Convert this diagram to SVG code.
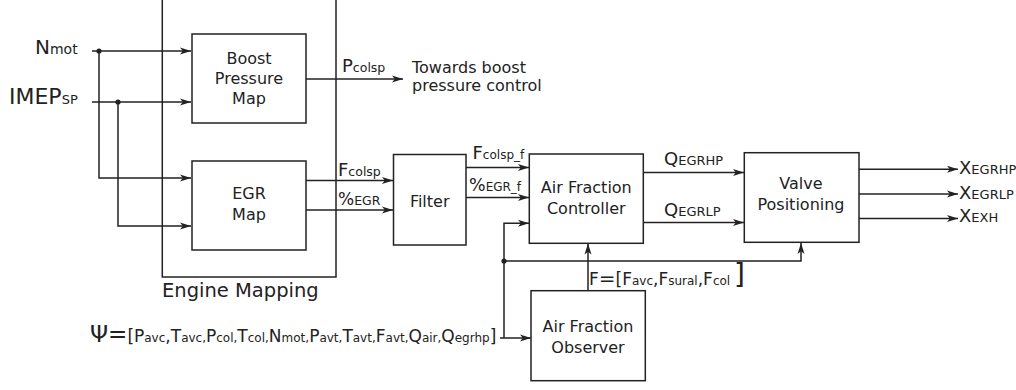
<svg xmlns="http://www.w3.org/2000/svg" width="1016" height="390" viewBox="0 0 1016 390">
<style>
.ln{fill:none;stroke:#222;stroke-width:1.5}
.ar{marker-end:url(#arr)}
.bx{fill:#fff;stroke:#222;stroke-width:1.5}
.t{font-family:"DejaVu Sans",sans-serif;fill:#222}
.bt{font-size:16px;text-anchor:middle}
.lb{font-size:18px}
.s{font-size:12.5px}
.u{font-size:13px}
</style>
<defs>
<marker id="arr" markerUnits="userSpaceOnUse" markerWidth="11" markerHeight="8" refX="11" refY="4" orient="auto">
<path d="M0,0.5 L11,4 L0,7.5 L2.8,4 Z" fill="#222"/>
</marker>
</defs>
<rect width="1016" height="390" fill="#fff"/>
<g id="engine-mapping">
<rect x="162.3" y="-10" width="173.7" height="287" fill="none" stroke="#222" stroke-width="1.5"/>
<text class="t" x="162" y="297" font-size="19.5">Engine Mapping</text>
</g>
<g id="connectors">
<path class="ln ar" d="M92,51 H191"/>
<path class="ln ar" d="M99,51 V178 H191"/>
<path class="ln ar" d="M92,102 H191"/>
<path class="ln ar" d="M118,102 V226 H191"/>
<path class="ln ar" d="M306,79 H403"/>
<path class="ln ar" d="M306,180.5 H393"/>
<path class="ln ar" d="M306,210 H393"/>
<path class="ln ar" d="M466,167.5 H529"/>
<path class="ln ar" d="M466,197.5 H529"/>
<path class="ln ar" d="M643,172.5 H744"/>
<path class="ln ar" d="M643,222.5 H744"/>
<path class="ln ar" d="M859,169.3 H958"/>
<path class="ln ar" d="M859,194 H958"/>
<path class="ln ar" d="M859,218.5 H958"/>
<path class="ln ar" d="M588,290.7 V243.5"/>
<path class="ln ar" d="M500,338 H531"/>
<path class="ln ar" d="M504,338 V223.3 H529"/>
<path class="ln ar" d="M504,261 H801 V243"/>
<circle cx="99" cy="51" r="2.6" fill="#222"/>
<circle cx="118" cy="102" r="2.6" fill="#222"/>
<circle cx="504" cy="261" r="2.6" fill="#222"/>
</g>
<g id="boost-pressure-map">
<rect class="bx" x="192" y="34" width="114" height="89"/>
<text class="t bt" x="249" y="63.5">Boost</text>
<text class="t bt" x="249" y="84">Pressure</text>
<text class="t bt" x="249" y="104">Map</text>
</g>
<g id="egr-map">
<rect class="bx" x="192" y="161" width="114" height="89"/>
<text class="t bt" x="249" y="199">EGR</text>
<text class="t bt" x="249" y="219.5">Map</text>
</g>
<g id="filter">
<rect class="bx" x="393.5" y="154.5" width="72.5" height="90.5"/>
<text class="t bt" x="429.7" y="206.5">Filter</text>
</g>
<g id="air-fraction-controller">
<rect class="bx" x="529.3" y="154" width="114" height="89.3"/>
<text class="t bt" x="586.3" y="193.3">Air Fraction</text>
<text class="t bt" x="586.3" y="214">Controller</text>
</g>
<g id="valve-positioning">
<rect class="bx" x="744.3" y="152.7" width="114.7" height="89.6"/>
<text class="t bt" x="801" y="189">Valve</text>
<text class="t bt" x="801" y="210">Positioning</text>
</g>
<g id="air-fraction-observer">
<rect class="bx" x="531" y="290.7" width="114.3" height="90"/>
<text class="t bt" x="588" y="332">Air Fraction</text>
<text class="t bt" x="588" y="352.7">Observer</text>
</g>
<g id="labels">
<text class="t" x="35" y="54"><tspan font-size="20">N</tspan><tspan font-size="14">mot</tspan></text>
<text class="t" x="9" y="104"><tspan font-size="22">IMEP</tspan><tspan font-size="13">SP</tspan></text>
<text class="t lb" x="342" y="71.7">P<tspan class="s">colsp</tspan></text>
<text class="t" font-size="16" x="412" y="73">Towards boost</text>
<text class="t" font-size="16" x="412" y="91">pressure control</text>
<text class="t lb" x="338" y="175.7">F<tspan class="s">colsp</tspan></text>
<text class="t lb" x="338" y="205"><tspan font-size="17">%</tspan><tspan class="s">EGR</tspan></text>
<text class="t lb" x="472.5" y="159.3">F<tspan font-size="12">colsp_f</tspan></text>
<text class="t lb" x="469" y="191"><tspan font-size="17.5">%</tspan><tspan font-size="12">EGR_f</tspan></text>
<text class="t lb" x="664" y="165">Q<tspan class="u">EGRHP</tspan></text>
<text class="t lb" x="664" y="215.5">Q<tspan class="u">EGRLP</tspan></text>
<text class="t lb" x="959" y="174">X<tspan class="u">EGRHP</tspan></text>
<text class="t lb" x="959" y="198.5">X<tspan class="u">EGRLP</tspan></text>
<text class="t lb" x="959" y="222">X<tspan class="u">EXH</tspan></text>
<text class="t" font-size="17" x="90" y="342"><tspan font-size="23">Ψ=</tspan>[P<tspan font-size="12">avc</tspan>,T<tspan font-size="12">avc,</tspan>P<tspan font-size="12">col,</tspan>T<tspan font-size="12">col,</tspan>N<tspan font-size="12">mot,</tspan>P<tspan font-size="12">avt,</tspan>T<tspan font-size="12">avt,</tspan>F<tspan font-size="12">avt,</tspan>Q<tspan font-size="12">air,</tspan>Q<tspan font-size="12">egrhp</tspan>]</text>
<text class="t" font-size="17" x="589" y="285">F<tspan font-size="20">=</tspan>[F<tspan font-size="12">avc</tspan>,F<tspan font-size="12">sural</tspan>,F<tspan font-size="12">col</tspan></text>
<text class="t" font-size="28" x="734" y="283.5">]</text>
</g>
</svg>
